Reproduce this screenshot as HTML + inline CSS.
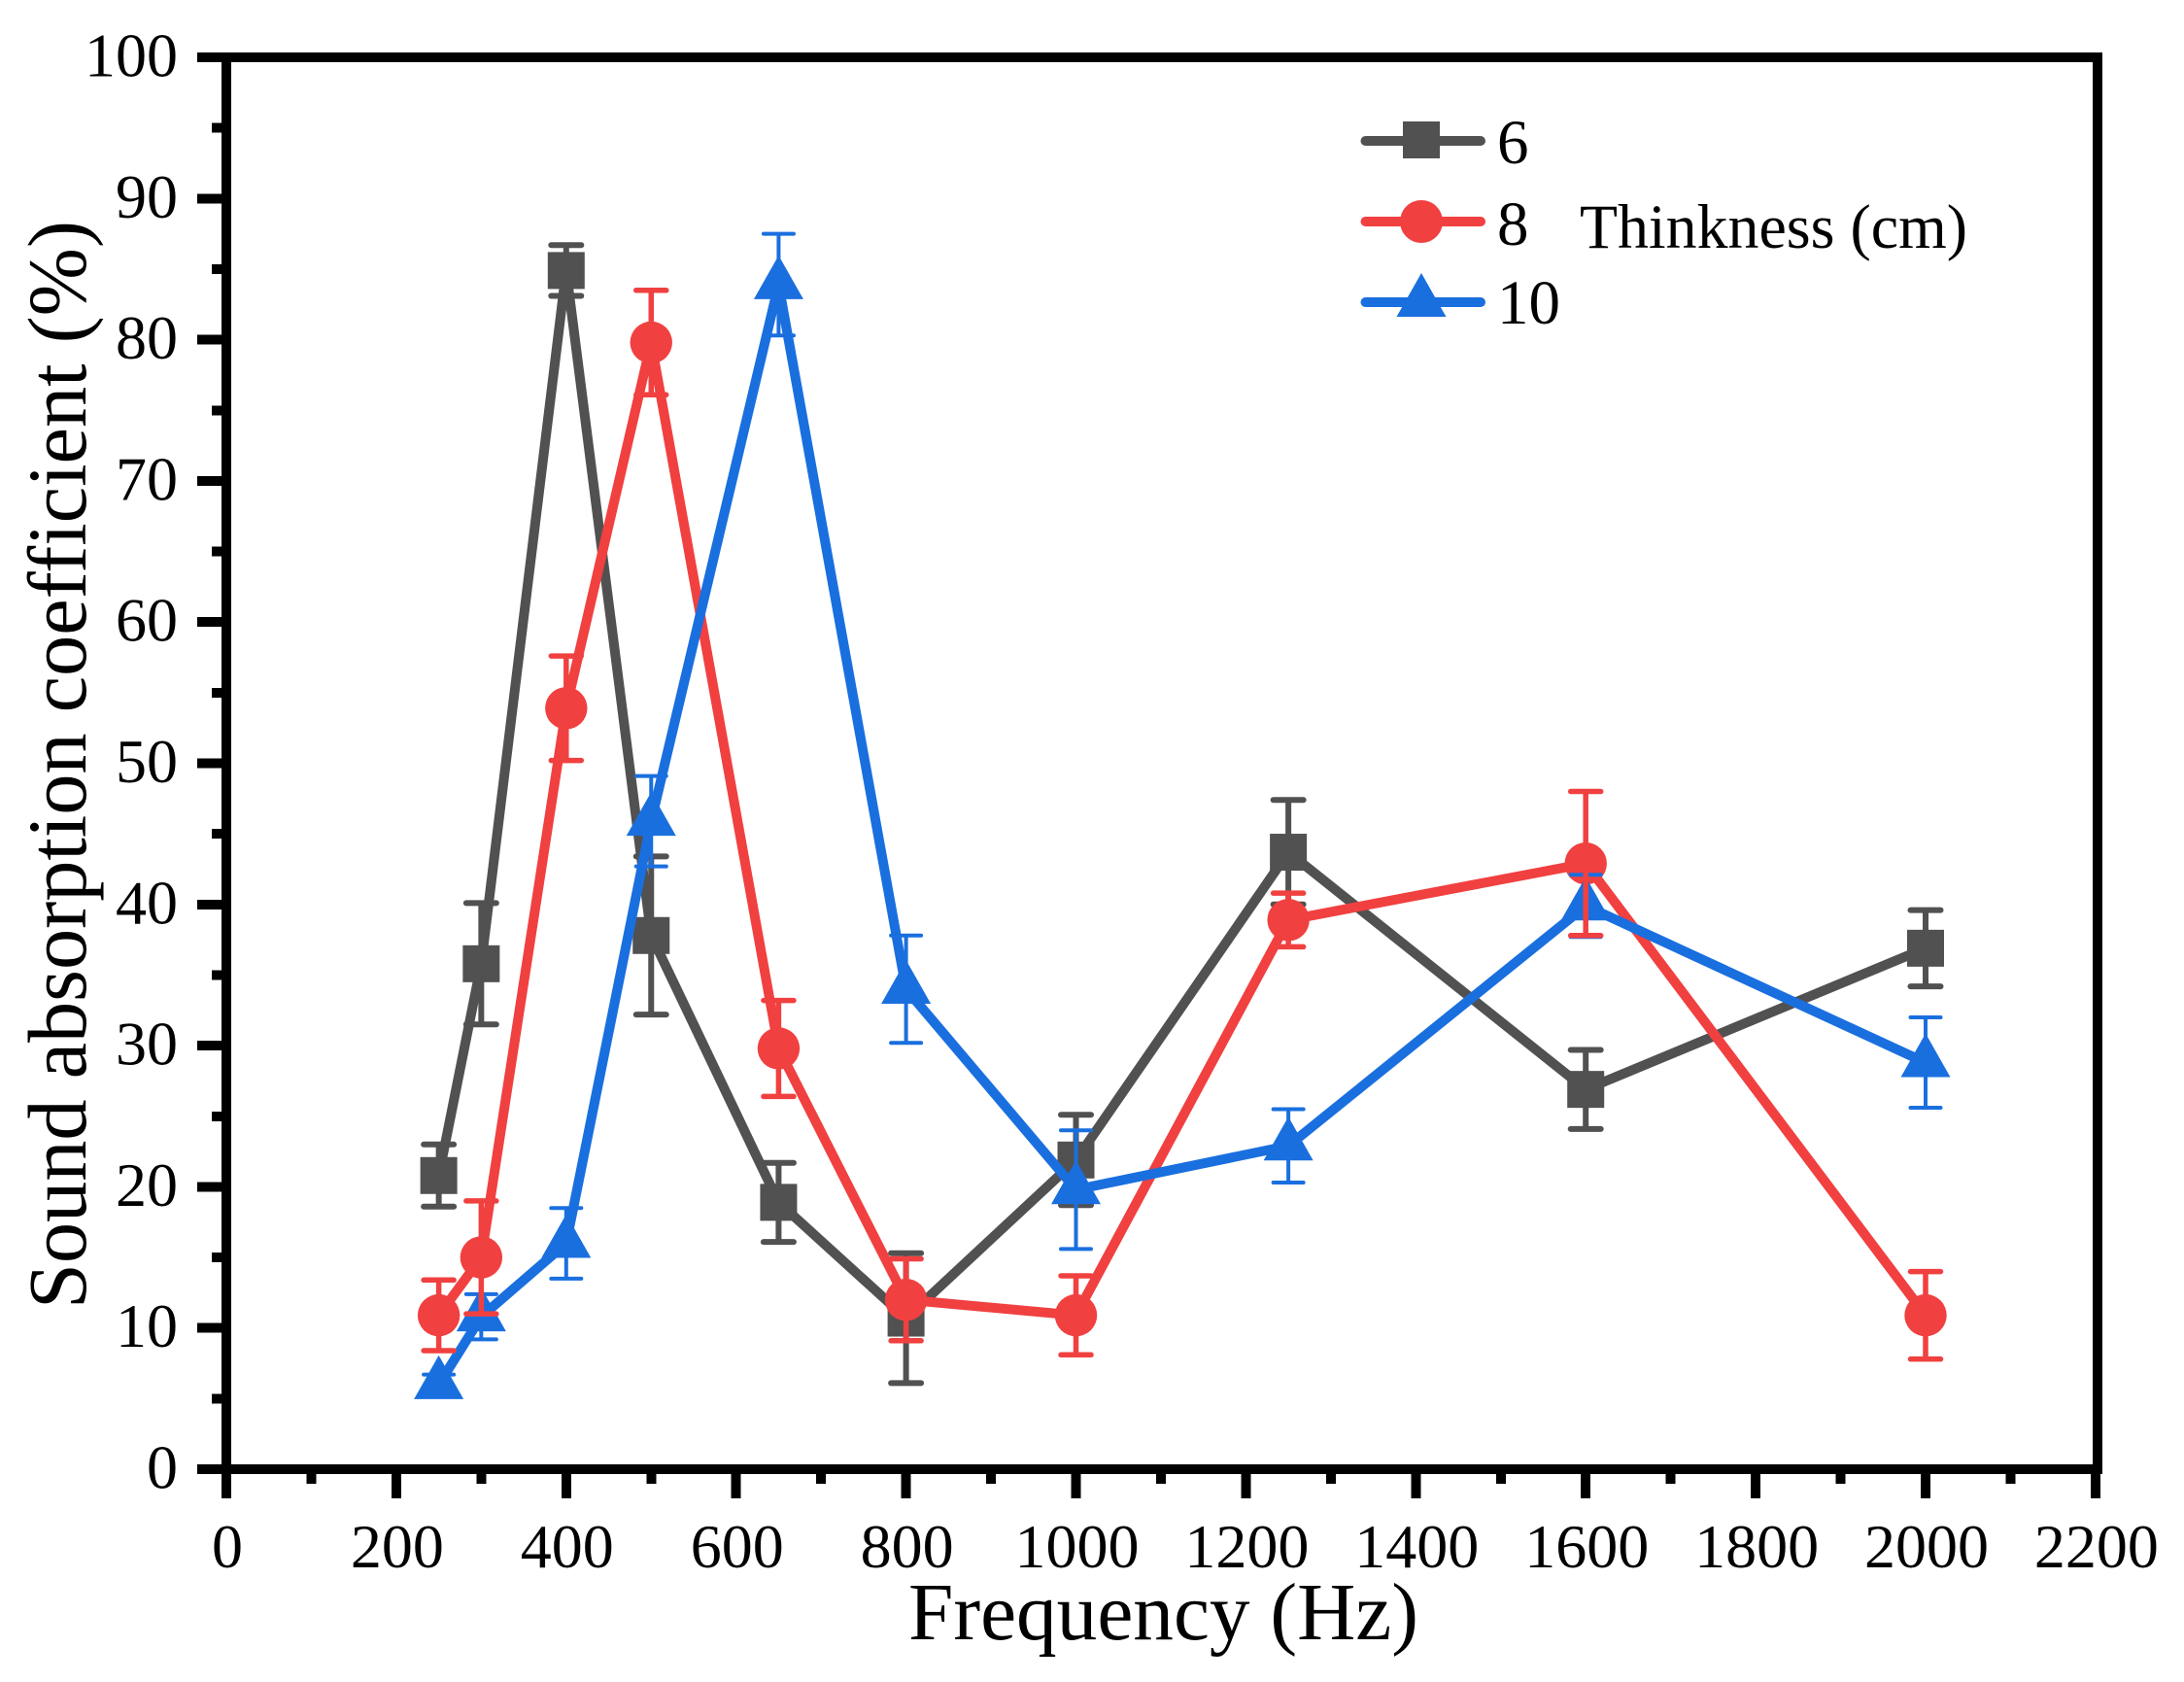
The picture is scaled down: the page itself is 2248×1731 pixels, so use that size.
<!DOCTYPE html>
<html lang="en">
<head>
<meta charset="utf-8">
<title>Sound absorption coefficient vs frequency</title>
<style>
html,body{margin:0;padding:0;background:#fff;}
svg{display:block;}
text{font-family:"Liberation Serif","Times New Roman",serif;fill:#000;}
</style>
</head>
<body>
<svg id="chart" xmlns="http://www.w3.org/2000/svg" width="2248" height="1731" viewBox="0 0 2248 1731">
  <rect x="0" y="0" width="2248" height="1731" fill="#ffffff"/>
  <g id="ticks" shape-rendering="crispEdges"></g>
  <g id="series"></g>
  <g id="frame" shape-rendering="crispEdges"></g>
  <g id="labels"></g>
  <text x="935" y="1687" font-size="84" textLength="525" lengthAdjust="spacingAndGlyphs">Frequency (Hz)</text>
  <text transform="translate(88,1347) rotate(-90)" x="0" y="0" font-size="86" textLength="1120" lengthAdjust="spacingAndGlyphs">Sound absorption coefficient (%)</text>
  <g>
    <g>
      <line x1="1405.5" x2="1524" y1="145" y2="145" stroke="#515151" stroke-width="10" stroke-linecap="round"/>
      <rect x="1444" y="125" width="38" height="38" fill="#515151"/>
      <text x="1541" y="168" font-size="65">6</text>
    </g>
    <g>
      <line x1="1405.5" x2="1524" y1="228" y2="228" stroke="#F14040" stroke-width="10" stroke-linecap="round"/>
      <circle cx="1463" cy="228" r="22" fill="#F14040"/>
      <text x="1541" y="252" font-size="65">8</text>
    </g>
    <g>
      <line x1="1405.5" x2="1524" y1="311" y2="311" stroke="#1A6FDF" stroke-width="10" stroke-linecap="round"/>
      <polygon points="1463,281 1488.5,326 1437.5,326" fill="#1A6FDF"/>
      <text x="1541" y="333" font-size="65">10</text>
    </g>
    <text x="1626" y="255" font-size="65" textLength="399" lengthAdjust="spacingAndGlyphs">Thinkness (cm)</text>
  </g>
</svg>
<script>
const frequencies = [250, 300, 400, 500, 650, 800, 1000, 1250, 1600, 2000];
const values6 = [20.8, 35.8, 84.9, 37.8, 18.9, 10.7, 21.9, 43.7, 26.9, 36.9];
const errors6 = [2.2, 4.3, 1.8, 5.6, 2.8, 4.6, 3.2, 3.7, 2.8, 2.7];
const values8 = [10.9, 15.0, 53.9, 79.8, 29.8, 12.0, 10.9, 38.9, 42.9, 10.9];
const errors8 = [2.5, 4.0, 3.7, 3.7, 3.4, 2.9, 2.8, 1.9, 5.1, 3.1];
const values10 = [6.0, 10.8, 16.0, 45.9, 83.9, 34.0, 19.8, 22.9, 39.9, 28.8];
const errors10 = [0.7, 1.6, 2.5, 3.2, 3.6, 3.8, 4.2, 2.6, 2.2, 3.2];
const xTickValues = [0, 200, 400, 600, 800, 1000, 1200, 1400, 1600, 1800, 2000, 2200];
const xMinorTickValues = [100, 300, 500, 700, 900, 1100, 1300, 1500, 1700, 1900, 2100];
const yTickValues = [0, 10, 20, 30, 40, 50, 60, 70, 80, 90, 100];
const yMinorTickValues = [5, 15, 25, 35, 45, 55, 65, 75, 85, 95];

const NS = 'http://www.w3.org/2000/svg';
function xScale(v) { return 233 + v * 0.8745; }
function yScale(v) { return 1512 - v * 14.53; }
function mk(parent, tag, attrs) {
  const el = document.createElementNS(NS, tag);
  for (const k in attrs) el.setAttribute(k, attrs[k]);
  parent.appendChild(el);
  return el;
}

const ticksG = document.getElementById('ticks');
const labelsG = document.getElementById('labels');
const frameG = document.getElementById('frame');
const seriesG = document.getElementById('series');
const AXW = 10;

xTickValues.forEach(function (v) {
  const t = mk(ticksG, 'line', { x1: xScale(v), x2: xScale(v), y1: 1512, y2: 1542, stroke: '#000', 'stroke-width': AXW });
  
  
  const l = mk(labelsG, 'text', { x: xScale(v) + 1, y: 1613, 'font-size': 64, 'text-anchor': 'middle' });
  l.textContent = String(v);
  
  
});
xMinorTickValues.forEach(function (v) {
  const t = mk(ticksG, 'line', { x1: xScale(v), x2: xScale(v), y1: 1512, y2: 1527, stroke: '#000', 'stroke-width': AXW });
  
  
});
yTickValues.forEach(function (v) {
  const t = mk(ticksG, 'line', { x1: 203, x2: 233, y1: yScale(v), y2: yScale(v), stroke: '#000', 'stroke-width': AXW });
  
  
  const l = mk(labelsG, 'text', { x: 183, y: yScale(v) + 19.5, 'font-size': 64, 'text-anchor': 'end' });
  l.textContent = String(v);
  
  
});
yMinorTickValues.forEach(function (v) {
  const t = mk(ticksG, 'line', { x1: 218, x2: 233, y1: yScale(v), y2: yScale(v), stroke: '#000', 'stroke-width': AXW });
  
  
});

const box = mk(frameG, 'rect', { x: xScale(0), y: yScale(100), width: xScale(2200) + 2 - xScale(0), height: yScale(0) - yScale(100), fill: 'none', stroke: '#000', 'stroke-width': AXW });



function drawErrors(values, errors, color, stemW, capW, seriesName) {
  const g = mk(seriesG, 'g', {});
  
  
  values.forEach(function (v, i) {
    const x = xScale(frequencies[i]);
    const hi = yScale(v + errors[i]);
    const lo = yScale(v - errors[i]);
    const stem = mk(g, 'line', { x1: x, x2: x, y1: hi, y2: lo, stroke: color, 'stroke-width': stemW });
    
    
    [hi, lo].forEach(function (yy) {
      const cap = mk(g, 'line', { x1: x - 15.5, x2: x + 15.5, y1: yy, y2: yy, stroke: color, 'stroke-width': capW, 'stroke-linecap': 'round' });
      
      
    });
  });
}
function drawLine(values, color, seriesName) {
  const pts = values.map(function (v, i) { return xScale(frequencies[i]) + ',' + yScale(v); }).join(' ');
  const pl = mk(seriesG, 'polyline', { points: pts, fill: 'none', stroke: color, 'stroke-width': 10, 'stroke-linejoin': 'round' });
  
  
}
function drawMarkers(values, color, kind, seriesName) {
  values.forEach(function (v, i) {
    const x = xScale(frequencies[i]);
    const y = yScale(v);
    let m;
    if (kind === 'square') {
      m = mk(seriesG, 'rect', { x: x - 19, y: y - 19, width: 38, height: 38, fill: color });
    } else if (kind === 'circle') {
      m = mk(seriesG, 'circle', { cx: x, cy: y, r: 21.7, fill: color });
    } else {
      m = mk(seriesG, 'polygon', { points: x + ',' + (y - 30) + ' ' + (x + 25.5) + ',' + (y + 15) + ' ' + (x - 25.5) + ',' + (y + 15), fill: color });
    }
    
    
  });
}

drawErrors(values6, errors6, '#515151', 6, 6, 'series-6');
drawLine(values6, '#515151', 'series-6');
drawMarkers(values6, '#515151', 'square', 'series-6');

drawLine(values8, '#F14040', 'series-8');
drawMarkers(values8, '#F14040', 'circle', 'series-8');

drawErrors(values10, errors10, '#1A6FDF', 4, 4, 'series-10');
drawLine(values10, '#1A6FDF', 'series-10');
drawMarkers(values10, '#1A6FDF', 'triangle', 'series-10');

drawErrors(values8, errors8, '#F14040', 5.5, 5.5, 'series-8');
</script>
</body>
</html>
